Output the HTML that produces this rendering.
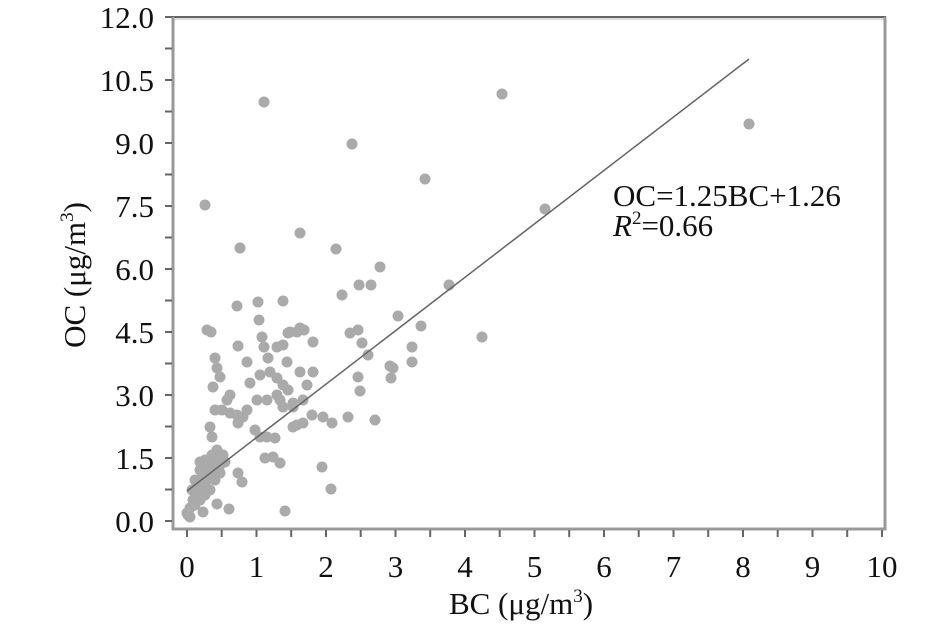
<!DOCTYPE html>
<html><head><meta charset="utf-8"><style>
html,body{margin:0;padding:0;background:#fff;}
svg{display:block;}
text{font-family:"Liberation Serif",serif;fill:#111;}
</style></head><body>
<svg width="945" height="635" viewBox="0 0 945 635" xmlns="http://www.w3.org/2000/svg">
<rect width="945" height="635" fill="#fff"/>
<line x1="172" y1="17" x2="886" y2="17" stroke="#666" stroke-width="2"/>
<line x1="172" y1="19" x2="884" y2="19" stroke="#ddd" stroke-width="2"/>
<line x1="885" y1="17" x2="885" y2="530" stroke="#999" stroke-width="3"/>
<line x1="173" y1="17" x2="173" y2="530" stroke="#999" stroke-width="3"/>
<line x1="172" y1="529" x2="886" y2="529" stroke="#999" stroke-width="3"/>
<g stroke="#666" stroke-width="2">
<line x1="165" y1="17" x2="172" y2="17"/><line x1="165" y1="48.5" x2="172" y2="48.5"/>
<line x1="165" y1="80" x2="172" y2="80"/><line x1="165" y1="111.5" x2="172" y2="111.5"/>
<line x1="165" y1="143" x2="172" y2="143"/><line x1="165" y1="174.5" x2="172" y2="174.5"/>
<line x1="165" y1="206" x2="172" y2="206"/><line x1="165" y1="237.5" x2="172" y2="237.5"/>
<line x1="165" y1="269" x2="172" y2="269"/><line x1="165" y1="300.5" x2="172" y2="300.5"/>
<line x1="165" y1="332" x2="172" y2="332"/><line x1="165" y1="363.5" x2="172" y2="363.5"/>
<line x1="165" y1="395" x2="172" y2="395"/><line x1="165" y1="426.5" x2="172" y2="426.5"/>
<line x1="165" y1="458" x2="172" y2="458"/><line x1="165" y1="489.5" x2="172" y2="489.5"/>
<line x1="165" y1="521" x2="172" y2="521"/>
</g>
<g stroke="#666" stroke-width="2">
<line x1="187" y1="530" x2="187" y2="537"/><line x1="221.7" y1="530" x2="221.7" y2="537"/>
<line x1="256.5" y1="530" x2="256.5" y2="537"/><line x1="291.2" y1="530" x2="291.2" y2="537"/>
<line x1="326" y1="530" x2="326" y2="537"/><line x1="360.7" y1="530" x2="360.7" y2="537"/>
<line x1="395.5" y1="530" x2="395.5" y2="537"/><line x1="430.2" y1="530" x2="430.2" y2="537"/>
<line x1="465" y1="530" x2="465" y2="537"/><line x1="499.7" y1="530" x2="499.7" y2="537"/>
<line x1="534.5" y1="530" x2="534.5" y2="537"/><line x1="569.2" y1="530" x2="569.2" y2="537"/>
<line x1="604" y1="530" x2="604" y2="537"/><line x1="638.7" y1="530" x2="638.7" y2="537"/>
<line x1="673.5" y1="530" x2="673.5" y2="537"/><line x1="708.2" y1="530" x2="708.2" y2="537"/>
<line x1="743" y1="530" x2="743" y2="537"/><line x1="777.7" y1="530" x2="777.7" y2="537"/>
<line x1="812.5" y1="530" x2="812.5" y2="537"/><line x1="847.2" y1="530" x2="847.2" y2="537"/>
<line x1="882" y1="530" x2="882" y2="537"/>
</g>
<g font-size="31" text-anchor="end">
<text x="154" y="28">12.0</text><text x="154" y="91">10.5</text>
<text x="154" y="154">9.0</text><text x="154" y="217">7.5</text>
<text x="154" y="280">6.0</text><text x="154" y="343">4.5</text>
<text x="154" y="406">3.0</text><text x="154" y="469">1.5</text>
<text x="154" y="532">0.0</text>
</g>
<g font-size="31" text-anchor="middle">
<text x="187" y="577">0</text><text x="256.5" y="577">1</text><text x="326" y="577">2</text>
<text x="395.5" y="577">3</text><text x="465" y="577">4</text><text x="534.5" y="577">5</text>
<text x="604" y="577">6</text><text x="673.5" y="577">7</text><text x="743" y="577">8</text>
<text x="812.5" y="577">9</text><text x="882" y="577">10</text>
</g>
<text x="521" y="614" font-size="31" text-anchor="middle">BC (μg/m<tspan font-size="19" dy="-12">3</tspan><tspan dy="12">)</tspan></text>
<text transform="translate(85,275) rotate(-90)" font-size="31" text-anchor="middle">OC (μg/m<tspan font-size="19" dy="-12">3</tspan><tspan dy="12">)</tspan></text>
<text x="613" y="206" font-size="31">OC=1.25BC+1.26</text>
<text x="613" y="236" font-size="31"><tspan font-style="italic">R</tspan><tspan font-size="19" dy="-12">2</tspan><tspan dy="12">=0.66</tspan></text>
<g fill="#aaa">
<circle cx="264" cy="102" r="5.5"/><circle cx="502" cy="94" r="5.5"/><circle cx="749" cy="124" r="5.5"/>
<circle cx="352" cy="144" r="5.5"/><circle cx="425" cy="179" r="5.5"/><circle cx="205" cy="205" r="5.5"/>
<circle cx="545" cy="209" r="5.5"/><circle cx="240" cy="248" r="5.5"/><circle cx="300" cy="233" r="5.5"/>
<circle cx="336" cy="249" r="5.5"/><circle cx="380" cy="267" r="5.5"/><circle cx="449" cy="285" r="5.5"/>
<circle cx="342" cy="295" r="5.5"/><circle cx="359" cy="285" r="5.5"/><circle cx="371" cy="285" r="5.5"/>
<circle cx="283" cy="301" r="5.5"/><circle cx="258" cy="302" r="5.5"/><circle cx="237" cy="306" r="5.5"/>
<circle cx="259" cy="320" r="5.5"/><circle cx="398" cy="316" r="5.5"/><circle cx="421" cy="326" r="5.5"/>
<circle cx="482" cy="337" r="5.5"/><circle cx="412" cy="347" r="5.5"/><circle cx="412" cy="362" r="5.5"/>
<circle cx="391" cy="378" r="5.5"/><circle cx="390" cy="366" r="5.5"/><circle cx="331" cy="489" r="5.5"/>
<circle cx="322" cy="467" r="5.5"/><circle cx="285" cy="511" r="5.5"/><circle cx="375" cy="420" r="5.5"/>
<circle cx="348" cy="417" r="5.5"/><circle cx="360" cy="391" r="5.5"/><circle cx="358" cy="377" r="5.5"/>
<circle cx="368" cy="355" r="5.5"/><circle cx="300" cy="328" r="5.5"/><circle cx="304" cy="330" r="5.5"/>
<circle cx="290" cy="332" r="5.5"/><circle cx="207" cy="330" r="5.5"/><circle cx="211" cy="332" r="5.5"/>
<circle cx="288" cy="333" r="5.5"/><circle cx="297" cy="332" r="5.5"/><circle cx="262" cy="337" r="5.5"/>
<circle cx="264" cy="347" r="5.5"/><circle cx="277" cy="347" r="5.5"/><circle cx="283" cy="345" r="5.5"/>
<circle cx="313" cy="342" r="5.5"/><circle cx="350" cy="333" r="5.5"/><circle cx="358" cy="330" r="5.5"/>
<circle cx="362" cy="343" r="5.5"/><circle cx="238" cy="346" r="5.5"/><circle cx="215" cy="358" r="5.5"/>
<circle cx="217" cy="368" r="5.5"/><circle cx="220" cy="377" r="5.5"/><circle cx="213" cy="387" r="5.5"/>
<circle cx="247" cy="362" r="5.5"/><circle cx="268" cy="358" r="5.5"/><circle cx="270" cy="372" r="5.5"/>
<circle cx="260" cy="375" r="5.5"/><circle cx="250" cy="383" r="5.5"/><circle cx="287" cy="362" r="5.5"/>
<circle cx="300" cy="372" r="5.5"/><circle cx="313" cy="372" r="5.5"/><circle cx="307" cy="385" r="5.5"/>
<circle cx="277" cy="378" r="5.5"/><circle cx="283" cy="385" r="5.5"/><circle cx="288" cy="390" r="5.5"/>
<circle cx="277" cy="395" r="5.5"/><circle cx="283" cy="407" r="5.5"/><circle cx="293" cy="407" r="5.5"/>
<circle cx="393" cy="368" r="5.5"/><circle cx="230" cy="395" r="5.5"/><circle cx="227" cy="400" r="5.5"/>
<circle cx="222" cy="410" r="5.5"/><circle cx="215" cy="410" r="5.5"/><circle cx="210" cy="427" r="5.5"/>
<circle cx="212" cy="437" r="5.5"/><circle cx="217" cy="450" r="5.5"/><circle cx="223" cy="455" r="5.5"/>
<circle cx="237" cy="415" r="5.5"/><circle cx="238" cy="423" r="5.5"/><circle cx="230" cy="413" r="5.5"/>
<circle cx="243" cy="417" r="5.5"/><circle cx="247" cy="410" r="5.5"/><circle cx="255" cy="430" r="5.5"/>
<circle cx="260" cy="437" r="5.5"/><circle cx="267" cy="437" r="5.5"/><circle cx="275" cy="438" r="5.5"/>
<circle cx="257" cy="400" r="5.5"/><circle cx="267" cy="400" r="5.5"/><circle cx="280" cy="400" r="5.5"/>
<circle cx="293" cy="403" r="5.5"/><circle cx="303" cy="400" r="5.5"/><circle cx="293" cy="427" r="5.5"/>
<circle cx="297" cy="425" r="5.5"/><circle cx="303" cy="423" r="5.5"/><circle cx="312" cy="415" r="5.5"/>
<circle cx="323" cy="417" r="5.5"/><circle cx="332" cy="423" r="5.5"/><circle cx="265" cy="458" r="5.5"/>
<circle cx="273" cy="457" r="5.5"/><circle cx="280" cy="463" r="5.5"/><circle cx="238" cy="473" r="5.5"/>
<circle cx="242" cy="482" r="5.5"/><circle cx="229" cy="509" r="5.5"/><circle cx="217" cy="504" r="5.5"/>
<circle cx="203" cy="512" r="5.5"/>
<circle cx="187" cy="513" r="5.5"/><circle cx="190" cy="508" r="5.5"/><circle cx="193" cy="500" r="5.5"/>
<circle cx="197" cy="495" r="5.5"/><circle cx="200" cy="490" r="5.5"/><circle cx="203" cy="485" r="5.5"/>
<circle cx="207" cy="480" r="5.5"/><circle cx="210" cy="475" r="5.5"/><circle cx="195" cy="505" r="5.5"/>
<circle cx="200" cy="500" r="5.5"/><circle cx="205" cy="495" r="5.5"/><circle cx="210" cy="490" r="5.5"/>
<circle cx="215" cy="480" r="5.5"/><circle cx="220" cy="473" r="5.5"/><circle cx="190" cy="517" r="5.5"/>
<circle cx="188" cy="515" r="5.5"/><circle cx="192" cy="490" r="5.5"/><circle cx="197" cy="485" r="5.5"/>
<circle cx="203" cy="475" r="5.5"/><circle cx="200" cy="470" r="5.5"/><circle cx="195" cy="480" r="5.5"/>
<circle cx="213" cy="465" r="5.5"/><circle cx="217" cy="460" r="5.5"/><circle cx="212" cy="455" r="5.5"/>
<circle cx="205" cy="460" r="5.5"/><circle cx="200" cy="462" r="5.5"/><circle cx="207" cy="470" r="5.5"/>
<circle cx="215" cy="470" r="5.5"/><circle cx="220" cy="465" r="5.5"/><circle cx="225" cy="462" r="5.5"/>
</g>
<line x1="187" y1="491" x2="749" y2="59" stroke="#666" stroke-width="1.5"/>
</svg>
</body></html>
